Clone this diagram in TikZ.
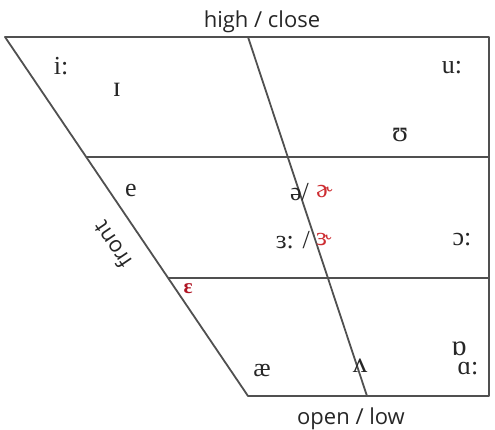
\documentclass[tikz,border=0pt]{standalone}
\usepackage{fontspec}
\setmainfont{Liberation Serif}
\newfontfamily\labelfont{Open Sans}
\definecolor{linegray}{RGB}{80,80,80}
\definecolor{ipared}{RGB}{205,45,50}
\definecolor{darkred}{RGB}{175,20,35}
\tikzset{
  frame/.style={draw=linegray, line width=1.8pt, line join=round},
  ipa/.style={font=\fontsize{26}{26}\selectfont, inner sep=0pt, text=black!85},
  ipabig/.style={ipa, font=\fontsize{29}{29}\selectfont},
  ipar/.style={ipa, text=ipared},
  axislabel/.style={font=\labelfont\fontsize{22}{22}\selectfont, inner sep=0pt, text=black!85},
}
\begin{document}
\begin{tikzpicture}[x=1pt,y=-1pt]
\useasboundingbox (0,0) rectangle (495,430);
% corners
\coordinate (tl) at (5,37);
\coordinate (tr) at (489,37);
\coordinate (br) at (489,396);
\coordinate (bl) at (248,396);
\coordinate (mt) at (248,37);
\coordinate (mb) at (367,396);
\coordinate (l1) at (86.2,157);
\coordinate (r1) at (489,157);
\coordinate (l2) at (168.2,278);
\coordinate (r2) at (489,278);
% outline and grid
\draw[frame] (tl) -- (tr) -- (br) -- (bl) -- cycle;
\draw[frame] (mt) -- (mb);
\draw[frame] (l1) -- (r1);
\draw[frame] (l2) -- (r2);
% axis labels
\node[axislabel] (high) at (262,22) {high / close};
\node[axislabel] (low) at (351,419) {open / low};
\node[axislabel, rotate=124] (front) at (112,245) {front};
% vowels
\node[ipa] (iy) at (61,66) {i:};
\node[ipabig] (ih) at (117,90) {ɪ};
\node[ipa] (uw) at (452,68) {u:};
\node[ipabig] (uh) at (400,135) {ʊ};
\node[ipa] (e) at (131,191) {e};
\node[ipa, anchor=east] (schwa) at (309,192) {ə/};
\node[ipar, anchor=west] (schwar) at (316,192) {ɚ};
\node[ipa, anchor=east] (er) at (310,240) {ɜ: /};
\node[ipar, anchor=west] (err) at (316,240) {ɝ};
\node[ipa] (ao) at (462,240) {ɔ:};
\node[ipa, text=darkred, font=\bfseries\fontsize{21}{21}\selectfont] (eh) at (188,289) {ɛ};
\node[ipa] (ae) at (262,371) {æ};
\node[ipabig] (ah) at (360,366) {ʌ};
\node[ipabig] (oh) at (459,349) {ɒ};
\node[ipa] (aa) at (468,369) {ɑ:};
\end{tikzpicture}
\end{document}
